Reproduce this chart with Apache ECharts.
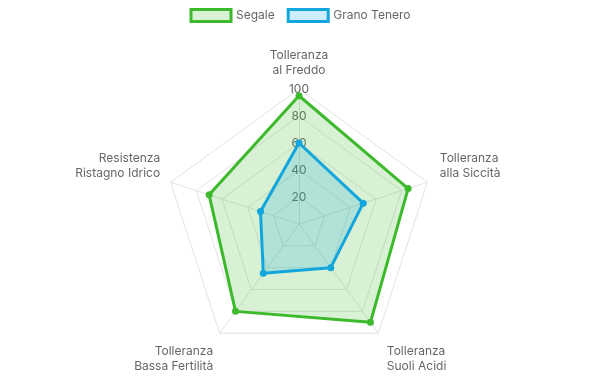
<!DOCTYPE html>
<html>
<head>
<meta charset="utf-8">
<script src="https://cdn.jsdelivr.net/npm/echarts@6/dist/echarts.min.js"></script>
<style>html,body{margin:0;padding:0;background:#fff}#c{width:600px;height:384px}</style>
</head>
<body>
<div id="c"></div>
<script>
// Values listed clockwise starting from the top axis
const indicators = ["Tolleranza\nal Freddo", "Tolleranza\nalla Siccità", "Tolleranza\nSuoli Acidi", "Tolleranza\nBassa Fertilità", "Resistenza\nRistagno Idrico"];
const seriesNames = ["Segale", "Grano Tenero"];
const segale = [95, 85, 90, 80, 70];
const granoTenero = [60, 50, 40, 45, 30];
const axisMax = 100;

// ECharts radar runs counter-clockwise: reorder so the picture goes clockwise
const order = [0, 4, 3, 2, 1];
const reorder = arr => order.map(i => arr[i]);

const green = '#3dba2c', greenFill = 'rgba(61,186,44,0.2)';
const blue = '#12a6dc', blueFill = 'rgba(18,166,220,0.2)';

// label placement style per clockwise index
const placeKind = ['top', 'sideR', 'bottomR', 'bottomL', 'sideL'];

function fmtName(value) {
  const idx = indicators.indexOf(value);
  const kind = placeKind[idx];
  const tStyle = (kind === 'sideR' || kind === 'bottomR') ? 'tr' : 't';
  const lines = value.split('\n').map(l => '{' + tStyle + '|' + l + '}').join('\n');
  if (kind === 'sideR' || kind === 'sideL') return lines + '\n{sa| }';
  if (kind === 'bottomR' || kind === 'bottomL') return '{sb| }\n' + lines;
  return lines;
}

const chart = echarts.init(document.getElementById('c'), null, {renderer: 'canvas'});
chart.setOption({
  animation: false,
  textStyle: {fontFamily: 'Inter'},
  legend: {
    top: 3,
    left: 'center',
    itemWidth: 40,
    itemHeight: 12,
    itemGap: 12,
    icon: 'rect',
    textStyle: {color: '#666', fontSize: 12, fontFamily: 'Inter'},
    data: [
      {name: seriesNames[0], itemStyle: {color: '#d9f2d5', borderColor: green, borderWidth: 3}},
      {name: seriesNames[1], itemStyle: {color: '#cdedfb', borderColor: blue, borderWidth: 3}}
    ]
  },
  radar: {
    center: [299, 224],
    radius: 135,
    startAngle: 90,
    splitNumber: 5,
    shape: 'polygon',
    nameGap: 11,
    axisName: {
      color: '#666', fontSize: 12, fontFamily: 'Inter', lineHeight: 15,
      formatter: fmtName,
      rich: {
        t: {color: '#666', fontSize: 12, fontFamily: 'Inter', lineHeight: 15},
        tr: {color: '#666', fontSize: 12, fontFamily: 'Inter', lineHeight: 15, padding: [0, 0, 0, 2]},
        sa: {fontSize: 12, lineHeight: 26},
        sb: {fontSize: 12, lineHeight: 33}
      }
    },
    splitLine: {lineStyle: {color: '#e2e2e2', width: 1}},
    splitArea: {show: false},
    axisLine: {lineStyle: {color: '#e2e2e2', width: 1}},
    axisLabel: {show: true, color: '#666', fontSize: 12, fontFamily: 'Inter', margin: 0, align: 'center', verticalAlign: 'middle', showMinLabel: false},
    indicator: order.map((i) => {
      const o = {name: indicators[i], max: axisMax, min: 0};
      if (i !== 0) o.axisLabel = {show: false};
      return o;
    })
  },
  series: [{
    type: 'radar',
    symbol: 'circle',
    symbolSize: 7,
    data: [
      {name: seriesNames[0], value: reorder(segale),
       lineStyle: {color: green, width: 3}, itemStyle: {color: green}, areaStyle: {color: greenFill, opacity: 1}},
      {name: seriesNames[1], value: reorder(granoTenero),
       lineStyle: {color: blue, width: 3}, itemStyle: {color: blue}, areaStyle: {color: blueFill, opacity: 1}}
    ]
  }]
});
</script>
</body>
</html>
